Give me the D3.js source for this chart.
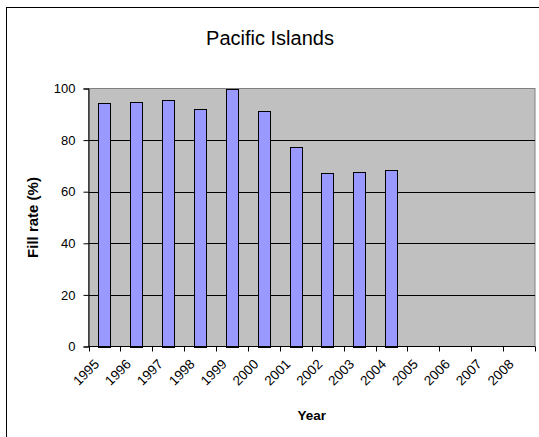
<!DOCTYPE html>
<html>
<head>
<meta charset="utf-8">
<script src="https://cdn.jsdelivr.net/npm/d3@7"></script>
<style>
  html, body { margin: 0; padding: 0; background: #fff; }
  svg { display: block; font-family: Arial, "Liberation Sans", sans-serif; }
</style>
</head>
<body>
<svg id="chart" width="539" height="437"></svg>
<script>
// Fill rate by year, Pacific Islands
const years = ["1995","1996","1997","1998","1999","2000","2001","2002","2003","2004","2005","2006","2007","2008"];
const fillRate = [94.4, 94.8, 95.7, 92.1, 100, 91.1, 77.5, 67.1, 67.6, 68.5, null, null, null, null];
const yTicks = [0, 20, 40, 60, 80, 100];

const svg = d3.select("#chart");
const plot = { left: 88.5, right: 535, top: 88.5, bottom: 346.5 };

// outer chart frame
svg.append("rect")
  .attr("x", 6.5).attr("y", 7.5)
  .attr("width", 560).attr("height", 460)
  .attr("fill", "#fff").attr("stroke", "#000").attr("stroke-width", 1);

const x = d3.scaleBand().domain(years).range([plot.left, plot.right]).padding(0);
const y = d3.scaleLinear().domain([0, 100]).range([plot.bottom, plot.top]);

// plot area
svg.append("rect")
  .attr("x", plot.left).attr("y", plot.top)
  .attr("width", plot.right - plot.left).attr("height", plot.bottom - plot.top)
  .attr("fill", "#c0c0c0").attr("stroke", "#808080").attr("stroke-width", 1);

// gridlines
svg.append("g").selectAll("line")
  .data(yTicks.filter(t => t > 0 && t < 100))
  .join("line")
  .attr("x1", plot.left).attr("x2", plot.right)
  .attr("y1", d => Math.round(y(d)) + 0.5).attr("y2", d => Math.round(y(d)) + 0.5)
  .attr("stroke", "#000").attr("stroke-width", 1);

// bars
const barW = x.bandwidth() * 0.39;
const data = years.map((yr, i) => ({ yr, v: fillRate[i] })).filter(d => d.v != null);
svg.append("g").selectAll("rect")
  .data(data)
  .join("rect")
  .attr("x", d => Math.round(x(d.yr) + x.bandwidth() / 2 - barW / 2) + 0.5)
  .attr("y", d => Math.round(y(d.v)) + 0.5)
  .attr("width", Math.round(barW))
  .attr("height", d => Math.round(y(0)) - Math.round(y(d.v)))
  .attr("fill", "#9999ff").attr("stroke", "#000").attr("stroke-width", 1);

// y axis
const yAxis = d3.axisLeft(y).tickValues(yTicks).tickSize(5).tickPadding(8).tickFormat(d3.format("d"));
const gy = svg.append("g").attr("transform", `translate(${plot.left},0)`).call(yAxis);
gy.select(".domain").attr("stroke", "#000");
gy.selectAll(".tick line").attr("stroke", "#000");
gy.selectAll(".tick text").attr("font-size", 13).attr("fill", "#000")
  .attr("font-family", "Arial, 'Liberation Sans', sans-serif");

// x axis: ticks sit on category boundaries
const gx = svg.append("g").attr("transform", `translate(0,${plot.bottom})`);
gx.append("line").attr("x1", plot.left).attr("x2", plot.right)
  .attr("stroke", "#000").attr("stroke-width", 1);
gx.selectAll("line.tk")
  .data(years.concat(["end"]))
  .join("line").attr("class", "tk")
  .attr("x1", (d, i) => Math.round(plot.left + i * x.bandwidth()) + 0.5)
  .attr("x2", (d, i) => Math.round(plot.left + i * x.bandwidth()) + 0.5)
  .attr("y1", 0).attr("y2", 5)
  .attr("stroke", "#000");
gx.selectAll("text")
  .data(years)
  .join("text")
  .attr("transform", d => `translate(${x(d) + x.bandwidth() / 2 - 4.5},${18.5}) rotate(-45)`)
  .attr("text-anchor", "end")
  .attr("font-size", 13.5)
  .attr("fill", "#000")
  .text(d => d);

// titles
svg.append("text")
  .attr("x", 270).attr("y", 45)
  .attr("text-anchor", "middle")
  .attr("font-size", 20)
  .text("Pacific Islands");

svg.append("text")
  .attr("x", (plot.left + plot.right) / 2).attr("y", 420)
  .attr("text-anchor", "middle")
  .attr("font-size", 13.5).attr("font-weight", "bold")
  .text("Year");

svg.append("text")
  .attr("transform", `translate(38,${(plot.top + plot.bottom) / 2}) rotate(-90)`)
  .attr("text-anchor", "middle")
  .attr("font-size", 15).attr("font-weight", "bold")
  .text("Fill rate (%)");
</script>
</body>
</html>
